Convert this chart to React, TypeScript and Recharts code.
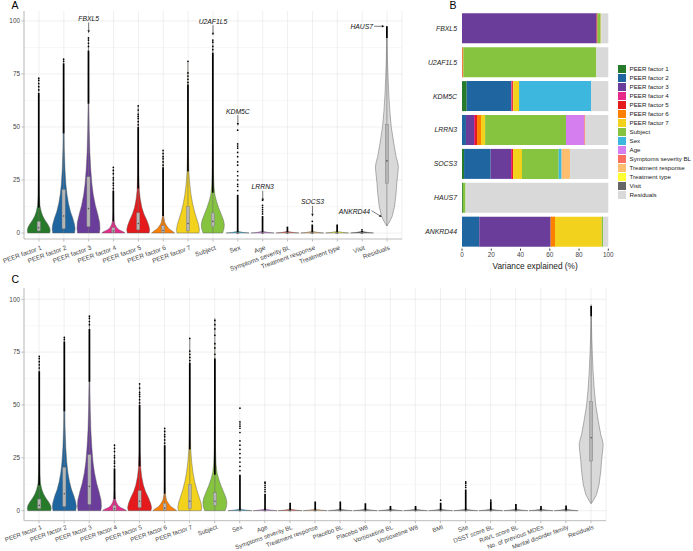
import React from "react";
import { Bar, BarChart, CartesianGrid, Legend, ReferenceDot, XAxis, YAxis } from "recharts";

const FONT = '"Liberation Sans", Arial, Helvetica, sans-serif';
const AXIS_GREY = "#bdbdbd";
const TEXT_GREY = "#444444";

// ---------- panel A ----------
const aCategories = [
  "PEER factor 1", "PEER factor 2", "PEER factor 3", "PEER factor 4", "PEER factor 5",
  "PEER factor 6", "PEER factor 7", "Subject", "Sex", "Age", "Symptoms severity BL",
  "Treatment response", "Treatment type", "Visit", "Residuals",
];
const aColors = [
  "#267a2a", "#1f66a0", "#6a3d9a", "#e7298a", "#e41a1c", "#ff7f00", "#f2d21c",
  "#86c440", "#3db7dd", "#d57ef0", "#fb7060", "#fdbf6f", "#ffff33", "#666666", "#d9d9d9",
];
const aMax = [73, 82, 92, 31, 60, 39, 81, 91, 49, 16, 3, 6, 4, 1.5, 97.5];
const aMin = [0, 0, 0, 0, 0, 0, 0, 0, 0, 0, 0, 0, 0, 0, 3.3];
const aQ1 = [1, 2, 3, 0.3, 1.5, 0.3, 1, 3, 0, 0, 0, 0, 0, 0, 23.5];
const aMedian = [2.5, 8, 11.5, 1, 4.5, 1.2, 4.5, 5.5, 0, 0, 0, 0, 0, 0, 34];
const aQ3 = [5.5, 20.5, 26.5, 2.5, 9.5, 3.5, 12.5, 9.5, 0.1, 0.1, 0.1, 0.1, 0.1, 0.1, 51.3];
const aWhisker = [12, 47, 61, 5.5, 21, 8, 29, 19, 0.3, 0.3, 0.3, 0.3, 0.3, 0.3, 92];
const aDenseTop = [66, 80, 86, 20, 50, 31, 70, 85, 18, 8, 3, 4, 4, 1, 97.5];
const aSparse = [
  [67.5, 69, 70.5, 72, 73], [81, 82], [88, 89.5, 91, 92], [21, 22.5, 23.5, 25, 26, 28, 29.5, 31],
  [51, 52.5, 54, 55, 56, 58, 60], [32, 33.5, 35, 36, 37.5, 39], [71, 72.5, 74, 75.5, 81],
  [86.5, 88, 90, 91], [20, 22, 23, 25, 27, 29, 32, 33.5, 36, 38, 40, 41, 42, 48.5],
  [9, 10, 11, 12, 13, 15.5], [], [5.5], [], [1.5], [],
];

// violin outlines: [value, relative half width]
const vPeer1 = [[0, 0.95], [1, 1], [2.5, 0.95], [4, 0.8], [6, 0.55], [8, 0.35], [10, 0.22], [13, 0.1], [18, 0.05], [30, 0.02], [73, 0]];
const vPeer2 = [[0, 0.95], [2, 1], [4, 0.95], [7, 0.8], [10, 0.6], [14, 0.42], [18, 0.3], [23, 0.2], [30, 0.12], [40, 0.06], [55, 0.03], [82, 0]];
const vPeer3 = [[0, 0.95], [2, 1], [5, 0.97], [9, 0.8], [13, 0.6], [18, 0.42], [23, 0.3], [30, 0.2], [38, 0.12], [48, 0.07], [62, 0.03], [92, 0]];
const vPeer4 = [[0, 1], [0.5, 0.9], [1.5, 0.5], [2.5, 0.3], [4, 0.15], [6, 0.06], [10, 0.02], [31, 0]];
const vPeer5 = [[0, 0.95], [1.5, 1], [3.5, 0.92], [6, 0.75], [9, 0.5], [12, 0.32], [16, 0.18], [20, 0.1], [28, 0.04], [60, 0]];
const vPeer6 = [[0, 1], [0.7, 0.85], [2, 0.5], [3.5, 0.3], [5, 0.15], [8, 0.05], [14, 0.02], [39, 0]];
const vPeer7 = [[0, 0.95], [1.5, 1], [4, 0.92], [7, 0.75], [10, 0.58], [14, 0.4], [18, 0.27], [23, 0.16], [29, 0.08], [40, 0.03], [81, 0]];
const vSubject = [[0, 0.85], [2, 0.97], [4, 1], [6, 0.93], [9, 0.72], [12, 0.5], [15, 0.32], [18, 0.18], [22, 0.1], [30, 0.05], [50, 0.02], [91, 0]];
const vFlat = [[0, 1], [0.3, 0.45], [0.7, 0.1], [1.2, 0]];
const vResiduals = [[3.3, 0], [5, 0.2], [7.7, 0.45], [12.4, 0.66], [18.7, 0.8], [23.4, 0.86], [28, 0.95], [31.3, 1], [33.5, 0.93], [36, 0.8], [42.3, 0.6], [50, 0.38], [58, 0.25], [66, 0.16], [74, 0.1], [82, 0.05], [90, 0.02], [97.5, 0]];
const aViolins = [vPeer1, vPeer2, vPeer3, vPeer4, vPeer5, vPeer6, vPeer7, vSubject, vFlat, vFlat, vFlat, vFlat, vFlat, vFlat, vResiduals];

const annoGenes = ["FBXL5", "U2AF1L5", "KDM5C", "LRRN3", "SOCS3", "HAUS7", "ANKRD44"];
const annoCategory = ["PEER factor 3", "Subject", "Sex", "Age", "Treatment response", "Residuals", "Residuals"];
const annoValue = [94.3, 93.1, 50.6, 14.9, 7.8, 97.5, 7.4];
const annoSide = ["down", "down", "down", "down", "down", "left", "lowerLeft"];

// ---------- panel B ----------
const bGenes = ["FBXL5", "U2AF1L5", "KDM5C", "LRRN3", "SOCS3", "HAUS7", "ANKRD44"];
const bComponents = [
  "PEER factor 1", "PEER factor 2", "PEER factor 3", "PEER factor 4", "PEER factor 5",
  "PEER factor 6", "PEER factor 7", "Subject", "Sex", "Age", "Symptoms severity BL",
  "Treatment response", "Treatment type", "Visit", "Residuals",
];
const peer1B = [0, 0, 3.2, 0, 1.4, 0.6, 0];
const peer2B = [0, 0, 30.5, 2.7, 18.2, 0, 11.8];
const peer3B = [92, 0, 0, 5.5, 13.9, 0, 48.8];
const peer4B = [0, 0, 0.5, 0.7, 0.7, 0, 0];
const peer5B = [0.6, 0.4, 0.6, 1.4, 0.7, 0, 0];
const peer6B = [0, 0.5, 0.3, 2.7, 0, 0, 3.0];
const peer7B = [0, 0, 3.9, 2.8, 6.1, 0, 31.9];
const subjectB = [2.2, 90.9, 0, 55.3, 25.1, 1.8, 0.9];
const sexB = [0, 0, 49.2, 0, 2.0, 0, 0];
const ageB = [0, 0, 0, 12.5, 0, 0, 0];
const symptomsB = [0, 0, 0, 0.5, 0, 0, 0];
const responseB = [0.4, 0, 0, 0, 5.7, 0, 0];
const typeB = [0, 0, 0, 0, 0, 0, 0];
const visitB = [0, 0, 0, 0, 0, 0, 0];
const residualsB = [4.8, 8.2, 11.8, 15.9, 26.2, 97.6, 3.6];
const bValues = [peer1B, peer2B, peer3B, peer4B, peer5B, peer6B, peer7B, subjectB, sexB, ageB, symptomsB, responseB, typeB, visitB, residualsB];

// ---------- panel C ----------
const cCategories = [
  "PEER factor 1", "PEER factor 2", "PEER factor 3", "PEER factor 4", "PEER factor 5",
  "PEER factor 6", "PEER factor 7", "Subject", "Sex", "Age", "Symptoms severity BL",
  "Treatment response", "Placebo BL", "Placebo W8", "Vortioxetine BL", "Vortioxetine W8",
  "BMI", "Site", "DSST score BL", "RAVL score BL", "No. of previous MDEs",
  "Mental disorder family", "Residuals",
];
const cColors = [
  "#267a2a", "#1f66a0", "#6a3d9a", "#e7298a", "#e41a1c", "#ff7f00", "#f2d21c", "#86c440",
  "#3db7dd", "#d57ef0", "#fb7060", "#fdbf6f", "#9e9e9e", "#9e9e9e", "#9e9e9e", "#9e9e9e",
  "#9e9e9e", "#9e9e9e", "#9e9e9e", "#9e9e9e", "#9e9e9e", "#9e9e9e", "#d9d9d9",
];
const cMax = [73, 82, 92, 31, 60, 39, 81.5, 90, 48.5, 13.5, 3.8, 4.3, 4.3, 3.5, 2.2, 2.2, 5, 13.6, 5, 3.2, 2.2, 2.5, 96.8];
const cMin = [0, 0, 0, 0, 0, 0, 0, 0, 0, 0, 0, 0, 0, 0, 0, 0, 0, 0, 0, 0, 0, 0, 3.5];
const cQ1 = [1, 2, 3, 0.3, 1.5, 0.3, 1, 2.5, 0, 0, 0, 0, 0, 0, 0, 0, 0, 0, 0, 0, 0, 0, 23.5];
const cMedian = [2.5, 8, 11.5, 1, 4.5, 1.2, 4.5, 4.5, 0, 0, 0, 0, 0, 0, 0, 0, 0, 0, 0, 0, 0, 0, 34.5];
const cQ3 = [5.5, 20.5, 26.5, 2.5, 9.5, 3.5, 12.5, 8.5, 0.1, 0.1, 0.1, 0.1, 0.1, 0.1, 0.1, 0.1, 0.1, 0.1, 0.1, 0.1, 0.1, 0.1, 51.6];
const cWhisker = [12, 47, 61, 5.5, 21, 8, 29, 17, 0.3, 0.3, 0.3, 0.3, 0.3, 0.3, 0.3, 0.3, 0.3, 0.3, 0.3, 0.3, 0.3, 0.3, 92];
const cDenseTop = [66, 80, 86, 20, 50, 31, 70, 72, 17, 8, 3.8, 4.3, 4.3, 3.5, 2.2, 2.2, 3.8, 10, 4.5, 3.2, 2.2, 2.5, 96.8];
const cSparse = [
  [67.5, 69, 70.5, 72, 73], [81, 82], [88, 89.5, 91, 92], [21, 22.5, 23.5, 25, 26, 28, 29.5, 31],
  [51, 52.5, 54, 55, 56, 58, 60], [32, 33.5, 35, 36, 37.5, 39], [71, 72.5, 74, 75.5, 81.5],
  [74, 77, 79, 83, 86, 88, 90], [19, 21, 23, 25, 27, 29, 31, 33, 37, 39, 40, 41, 42, 48.5],
  [9, 10, 11, 12, 13, 13.5], [], [], [], [], [], [], [5], [11, 12, 13, 13.6], [5], [], [], [], [],
];
const cViolins = [vPeer1, vPeer2, vPeer3, vPeer4, vPeer5, vPeer6, vPeer7, vSubject,
  vFlat, vFlat, vFlat, vFlat, vFlat, vFlat, vFlat, vFlat, vFlat, vFlat, vFlat, vFlat, vFlat, vFlat, vResiduals];

const majorTicks = [0, 25, 50, 75, 100];
const minorTicks = [12.5, 37.5, 62.5, 87.5];

const aData = aCategories.map((name, i) => ({
  name, max: aMax[i], min: aMin[i], q1: aQ1[i], med: aMedian[i], q3: aQ3[i], wh: aWhisker[i],
  dense: aDenseTop[i], sparse: aSparse[i], violin: aViolins[i], color: aColors[i],
}));
const cData = cCategories.map((name, i) => ({
  name, max: cMax[i], min: cMin[i], q1: cQ1[i], med: cMedian[i], q3: cQ3[i], wh: cWhisker[i],
  dense: cDenseTop[i], sparse: cSparse[i], violin: cViolins[i], color: cColors[i],
}));
const bData = bGenes.map((gene, i) => {
  const row: Record<string, any> = { gene };
  bComponents.forEach((c, j) => (row[c] = bValues[j][i]));
  return row;
});

function ViolinShape(props: any) {
  const { x, y, width, height, payload } = props;
  const d = payload;
  if (!d || !(height > 0)) return null;
  const k = height / d.max;
  const base = y + height;
  const py = (v: number) => base - v * k;
  const cx = x + width / 2;
  const hw = width / 2;
  const left = d.violin.map(([v, w]: number[]) => `${(cx - w * hw).toFixed(2)},${py(v).toFixed(2)}`);
  const right = [...d.violin].reverse().map(([v, w]: number[]) => `${(cx + w * hw).toFixed(2)},${py(v).toFixed(2)}`);
  const path = `M${left.join(" L")} L${right.join(" L")} Z`;
  return (
    <g>
      <path d={path} fill={d.color} stroke="#5a5a5a" strokeWidth={0.45} />
      <line x1={cx} x2={cx} y1={py(d.min)} y2={py(d.q1)} stroke="#6e6e6e" strokeWidth={0.6} />
      <line x1={cx} x2={cx} y1={py(d.q3)} y2={py(d.wh)} stroke="#6e6e6e" strokeWidth={0.6} />
      {d.dense > d.wh && (
        <line x1={cx} x2={cx} y1={py(d.wh)} y2={py(d.dense)} stroke="#000" strokeWidth={1.7} />
      )}
      {d.sparse.map((v: number, i: number) => (
        <circle key={i} cx={cx} cy={py(v)} r={0.85} fill="#000" />
      ))}
      <rect x={cx - 1.6} width={3.2} y={py(d.q3)} height={Math.max(py(d.q1) - py(d.q3), 0.4)}
        fill="#b5b5b5" stroke="#777" strokeWidth={0.4} />
      <circle cx={cx} cy={py(d.med)} r={0.8} fill="#555" />
    </g>
  );
}

function Arrow({ x1, y1, x2, y2 }: { x1: number; y1: number; x2: number; y2: number }) {
  const len = Math.hypot(x2 - x1, y2 - y1);
  const ux = (x2 - x1) / len;
  const uy = (y2 - y1) / len;
  const bx = x2 - ux * 2.8;
  const by = y2 - uy * 2.8;
  const px = -uy * 1.2;
  const py = ux * 1.2;
  return (
    <g>
      <line x1={x1} y1={y1} x2={bx} y2={by} stroke="#111" strokeWidth={0.55} />
      <polygon points={`${bx + px},${by + py} ${bx - px},${by - py} ${x2},${y2}`} fill="#111" />
    </g>
  );
}

function annoShape(gene: string, side: string) {
  return (p: any) => {
    const { cx, cy } = p;
    const t = { fontSize: 6.8, fontStyle: "italic", fill: "#111", fontFamily: FONT } as const;
    if (side === "left") {
      return (
        <g>
          <Arrow x1={cx - 13} y1={cy} x2={cx - 2.5} y2={cy} />
          <text x={cx - 14} y={cy + 2.3} textAnchor="end" {...t}>{gene}</text>
        </g>
      );
    }
    if (side === "lowerLeft") {
      return (
        <g>
          <Arrow x1={cx - 15.5} y1={cy - 6.6} x2={cx - 5.3} y2={cy - 0.4} />
          <text x={cx - 17} y={cy - 3} textAnchor="end" {...t}>{gene}</text>
        </g>
      );
    }
    return (
      <g>
        <Arrow x1={cx} y1={cy - 10.5} x2={cx} y2={cy} />
        <text x={cx} y={cy - 12} textAnchor="middle" {...t}>{gene}</text>
      </g>
    );
  };
}

function CatTick(props: any) {
  const { x, y, payload, shift = 3.5, size = 6.4 } = props;
  return (
    <g transform={`translate(${x + 1.5},${y + shift}) rotate(-20)`}>
      <text x={0} y={4.6} textAnchor="end" fontSize={size} fill={TEXT_GREY} fontFamily={FONT}>
        {payload.value}
      </text>
    </g>
  );
}

function GeneTick(props: any) {
  const { x, y, payload } = props;
  return (
    <text x={x} y={y} dy={2.4} textAnchor="end" fontSize={6.9} fontStyle="italic" fill="#1a1a1a" fontFamily={FONT}>
      {payload.value}
    </text>
  );
}

function LegendBox() {
  return (
    <div style={{ fontFamily: FONT }}>
      {bComponents.map((c, i) => (
        <div key={c} style={{ display: "flex", alignItems: "center", height: 9 }}>
          <span style={{ width: 8, height: 8, background: aColors[i], display: "inline-block", flex: "none" }} />
          <span style={{ marginLeft: 3.5, fontSize: 6.2, color: "#1a1a1a", whiteSpace: "nowrap" }}>{c}</span>
        </div>
      ))}
    </div>
  );
}

function ViolinPanel({ data, width, height, top, domain, xHeight, right, tickShift, tickSize }: any) {
  return (
    <BarChart
      width={width}
      height={height}
      data={data}
      margin={{ top, right, left: 0, bottom: 0 }}
      barCategoryGap="3%"
    >
      <CartesianGrid horizontalValues={minorTicks} vertical={false} stroke="#f0f0f0" strokeWidth={0.5} />
      <CartesianGrid horizontalValues={majorTicks} stroke="#e4e4e4" strokeWidth={0.6} />
      <XAxis
        dataKey="name"
        type="category"
        interval={0}
        height={xHeight}
        padding={{ left: 2.5, right: 2.5 }}
        tick={<CatTick shift={tickShift} size={tickSize} />}
        tickSize={2.5}
        tickMargin={0}
        axisLine={{ stroke: AXIS_GREY }}
        tickLine={{ stroke: AXIS_GREY }}
      />
      <XAxis xAxisId="top" orientation="top" dataKey="name" height={0} tick={false} tickLine={false}
        axisLine={{ stroke: AXIS_GREY }} />
      <YAxis
        type="number"
        domain={domain}
        allowDataOverflow
        ticks={majorTicks}
        width={24}
        tickSize={2.5}
        tickMargin={1.5}
        tick={{ fontSize: 6.4, fill: TEXT_GREY, fontFamily: FONT }}
        axisLine={{ stroke: AXIS_GREY }}
        tickLine={{ stroke: AXIS_GREY }}
      />
      <YAxis yAxisId="r" orientation="right" type="number" domain={domain} allowDataOverflow width={0}
        tick={false} tickLine={false} axisLine={{ stroke: AXIS_GREY }} />
      <Bar dataKey="max" shape={ViolinShape} isAnimationActive={false} />
      {data === aData &&
        annoGenes.map((g, i) => (
          <ReferenceDot key={g} x={annoCategory[i]} y={annoValue[i]} r={1} ifOverflow="visible"
            shape={annoShape(g, annoSide[i])} />
        ))}
    </BarChart>
  );
}

const panelLabel = (l: number, t: number): React.CSSProperties => ({
  position: "absolute", left: l, top: t, fontSize: 10.5, lineHeight: "10.5px", fontFamily: FONT, color: "#000",
});

export default function App() {
  return (
    <div style={{ position: "absolute", left: 0, top: 0, width: 693, height: 551, background: "#fff", overflow: "hidden" }}>
      <div style={{ position: "absolute", left: 0, top: 0 }}>
        <ViolinPanel data={aData} width={410} height={290} top={11} right={8} xHeight={51}
          domain={[-2.83, 104.7]} tickShift={3.5} tickSize={6.4} />
      </div>
      <div style={{ position: "absolute", left: 400, top: 0 }}>
        <BarChart width={293} height={290} data={bData} layout="vertical"
          margin={{ top: 11.4, right: 84.7, left: 0, bottom: 0 }} barCategoryGap="5.75%">
          <XAxis type="number" domain={[0, 100]} ticks={[0, 20, 40, 60, 80, 100]} height={41.4}
            tickSize={2} tickMargin={1.5} axisLine={false} tickLine={{ stroke: "#333" }}
            tick={{ fontSize: 6.4, fill: TEXT_GREY, fontFamily: FONT }}
            label={{ value: "Variance explained (%)", position: "insideBottom", offset: 21.5, fontSize: 8.3, fill: "#1a1a1a", fontFamily: FONT }} />
          <YAxis type="category" dataKey="gene" width={62} tickSize={0} tickMargin={5}
            axisLine={false} tickLine={false} tick={<GeneTick />} interval={0} />
          {bComponents.map((c, i) => (
            <Bar key={c} dataKey={c} stackId="a" fill={aColors[i]} isAnimationActive={false} />
          ))}
          <Legend layout="vertical" align="center" verticalAlign="middle" content={<LegendBox />}
            wrapperStyle={{ left: 218, top: 64.3, width: 80, height: 140 }} />
        </BarChart>
      </div>
      <div style={{ position: "absolute", left: 0, top: 280 }}>
        <ViolinPanel data={cData} width={620} height={271} top={8.3} right={14} xHeight={30.3}
          domain={[-4.73, 105.2]} tickShift={1.2} tickSize={6.1} />
      </div>
      <div style={panelLabel(11.5, -0.5)}>A</div>
      <div style={panelLabel(449.5, 0)}>B</div>
      <div style={panelLabel(11.5, 274)}>C</div>
    </div>
  );
}
